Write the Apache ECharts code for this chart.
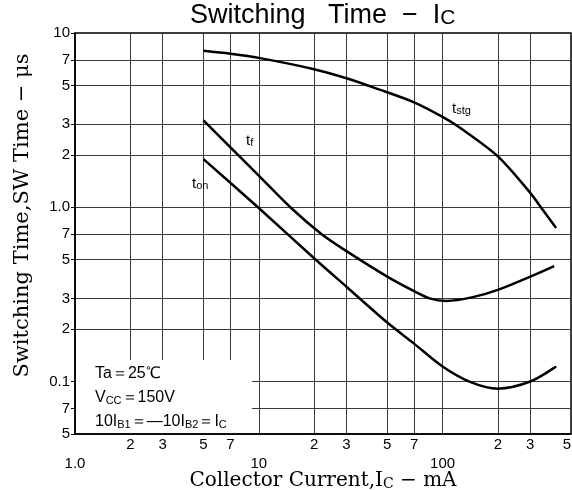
<!DOCTYPE html>
<html>
<head>
<meta charset="utf-8">
<title>Switching Time - IC</title>
<script src="https://cdn.jsdelivr.net/npm/echarts@6/dist/echarts.min.js"></script>
<style>
    html, body { margin: 0; padding: 0; background: #fff; }
    #chart { width: 572px; height: 490px; }
</style>
</head>
<body>
<div id="chart"></div>
<script>
    // axis ticks (log scales)
    const xTicks = [1, 2, 3, 5, 7, 10, 20, 30, 50, 70, 100, 200, 300, 500];
    const yTicks = [0.05, 0.07, 0.1, 0.2, 0.3, 0.5, 0.7, 1, 2, 3, 5, 7, 10];

    // tstg
    const tstgI = [5, 7, 10, 20, 30, 45, 70, 100, 125, 200, 300, 350, 415];
    const tstgT = [7.9, 7.6, 7.2, 6.2, 5.5, 4.75, 4.0, 3.3, 2.85, 1.96, 1.21, 0.97, 0.76];
    // tf
    const tfI = [5, 7, 10, 15, 22, 30, 50, 70, 85, 105, 146, 200, 300, 405];
    const tfT = [3.15, 2.21, 1.52, 0.99, 0.70, 0.56, 0.40, 0.33, 0.30, 0.29, 0.305, 0.336, 0.40, 0.46];
    // ton
    const tonI = [5, 10, 20, 30, 50, 70, 100, 140, 200, 300, 415];
    const tonT = [1.89, 0.99, 0.51, 0.35, 0.218, 0.165, 0.122, 0.100, 0.091, 0.10, 0.122];

    const pairs = (xs, ys) => xs.map((x, i) => [x, ys[i]]);

    function leadDigit(v) {
        const p = Math.pow(10, Math.floor(Math.log10(v) + 1e-9));
        return String(Math.round(v / p));
    }

    const sans = 'Liberation Sans';
    const serif = 'DejaVu Serif';
    const gridColor = '#3a3a3a';

    const chart = echarts.init(document.getElementById('chart'));

    const lineSeries = (name, xs, ys) => ({
        name: name,
        type: 'line',
        data: pairs(xs, ys),
        smooth: 0.3,
        showSymbol: false,
        silent: true,
        lineStyle: { color: '#000', width: 2.5 },
        z: 5
    });

    const subText = (x, y, main, sub) => ({
        type: 'text', x: x, y: y, z: 51,
        style: {
            text: '{a|' + main + '}{b|' + sub + '}',
            rich: {
                a: { fontFamily: sans, fontSize: 15, fill: '#000' },
                b: { fontFamily: sans, fontSize: 11, fill: '#000', verticalAlign: 'bottom' }
            }
        }
    });

    const option = {
        animation: false,
        backgroundColor: '#fff',
        grid: {
            left: 75, right: 1, top: 33, bottom: 56,
            show: true, borderColor: '#000', borderWidth: 1.5,
            outerBoundsMode: 'none'
        },
        xAxis: {
            type: 'log',
            logBase: 10,
            min: 1,
            max: 500,
            name: '{n|Collector Current,I}{sub|C}{n| − mA}',
            nameLocation: 'middle',
            nameGap: 37,
            nameMoveOverlap: false,
            nameTextStyle: {
                rich: {
                    n: { fontFamily: serif, fontSize: 20, color: '#000' },
                    sub: { fontFamily: serif, fontSize: 14, color: '#000', verticalAlign: 'bottom' }
                }
            },
            axisLine: { show: true, lineStyle: { color: '#000', width: 1.5 } },
            axisTick: { show: false, customValues: xTicks },
            splitLine: { show: true, lineStyle: { color: gridColor, width: 1 } },
            axisLabel: {
                customValues: xTicks,
                margin: 3,
                alignMaxLabel: 'right',
                formatter: function (v) {
                    if (Math.abs(v - 1) < 1e-6) return '{d|1.0}';
                    if (Math.abs(v - 10) < 1e-6 || Math.abs(v - 100) < 1e-6) return '{d|' + Math.round(v) + '}';
                    return '{m|' + leadDigit(v) + '}';
                },
                rich: {
                    m: { fontFamily: sans, fontSize: 15, color: '#000' },
                    d: { fontFamily: sans, fontSize: 15, color: '#000', padding: [19, 0, 0, 0] }
                }
            }
        },
        yAxis: {
            type: 'log',
            logBase: 10,
            min: 0.05,
            max: 10,
            name: 'Switching Time,SW Time − μs',
            nameLocation: 'middle',
            nameGap: 42,
            nameMoveOverlap: false,
            nameTextStyle: { fontFamily: serif, fontSize: 21, color: '#000', padding: [0, 0, 0, 36] },
            axisLine: { show: true, lineStyle: { color: '#000', width: 1.5 } },
            axisTick: { show: true, customValues: yTicks, length: 4, lineStyle: { color: '#000' } },
            splitLine: { show: true, lineStyle: { color: gridColor, width: 1 } },
            axisLabel: {
                customValues: yTicks,
                margin: 5,
                fontFamily: sans,
                fontSize: 15,
                color: '#000',
                formatter: function (v) {
                    if (Math.abs(v - 10) < 1e-6) return '10';
                    if (Math.abs(v - 1) < 1e-6) return '1.0';
                    if (Math.abs(v - 0.1) < 1e-9) return '0.1';
                    return leadDigit(v);
                }
            }
        },
        graphic: [
            {
                type: 'text',
                left: 190,
                top: 2,
                style: {
                    text: '{t|Switching   Time  −  I}{s|C}',
                    rich: {
                        t: { fontFamily: sans, fontSize: 27, fill: '#000' },
                        s: { fontFamily: sans, fontSize: 21, fill: '#000', verticalAlign: 'bottom' }
                    }
                }
            },
            {
                type: 'rect',
                shape: { x: 76, y: 360, width: 176, height: 73 },
                style: { fill: '#fff' },
                z: 50
            },
            {
                type: 'text',
                x: 95, y: 362,
                z: 51,
                style: {
                    text: '{a|Ta＝25℃}\n{a|V}{b|CC}{a|＝150V}\n{a|10I}{b|B1}{a|＝—10I}{b|B2}{a|＝I}{b|C}',
                    rich: {
                        a: { fontFamily: sans, fontSize: 16, fill: '#000', lineHeight: 24 },
                        b: { fontFamily: sans, fontSize: 11, fill: '#000', lineHeight: 24, verticalAlign: 'bottom', padding: [0, 0, 4, 0] }
                    }
                }
            },
            subText(452, 101, 't', 'stg'),
            subText(246, 133, 't', 'f'),
            subText(192, 176, 't', 'on')
        ],
        series: [
            lineSeries('tstg', tstgI, tstgT),
            lineSeries('tf', tfI, tfT),
            lineSeries('ton', tonI, tonT)
        ]
    };

    chart.setOption(option);
</script>
</body>
</html>
